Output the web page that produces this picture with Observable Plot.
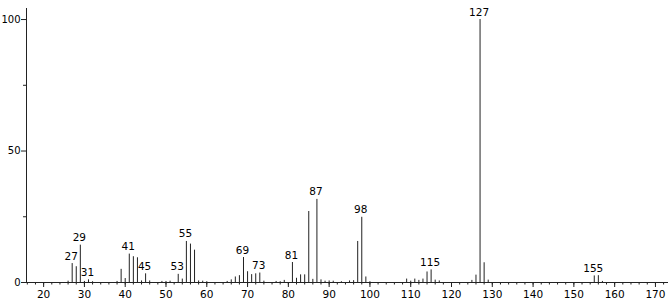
<!DOCTYPE html>
<html>
<head>
<meta charset="utf-8">
<script src="https://cdn.jsdelivr.net/npm/d3@7"></script>
<script src="https://cdn.jsdelivr.net/npm/@observablehq/plot@0.6"></script>
<style>
  html, body { margin: 0; padding: 0; background: #fff; }
  svg { display: block; }
</style>
</head>
<body>
<div id="chart"></div>
<script>
const mz = [26,27,28,29,30,31,32,38,39,40,41,42,43,44,45,46,49,50,51,53,54,55,56,57,58,59,60,65,66,67,68,69,70,71,72,73,74,77,78,79,81,82,83,84,85,86,87,88,89,90,91,93,95,96,97,98,99,100,109,110,111,112,113,114,115,116,117,125,126,127,128,129,155,156,157];
const intensity = [0.5,7.2,6.0,14.2,0.4,1.0,0.3,0.4,5.0,1.5,10.8,9.8,9.4,0.6,3.3,0.6,0.4,0.4,0.5,3.1,1.3,15.6,14.6,12.3,0.6,0.5,0.3,0.4,1.0,2.1,2.6,9.5,4.1,3.0,3.3,3.6,0.5,0.4,0.3,0.8,7.6,1.6,2.9,2.9,27.0,1.2,31.6,1.0,0.5,0.6,0.5,0.3,0.6,0.7,15.6,24.8,2.1,0.3,1.3,0.5,1.3,0.8,1.3,4.0,4.8,0.9,0.6,0.8,2.8,100,7.5,0.9,2.5,2.6,0.4];
const labeled = [27,29,31,41,45,53,55,69,73,81,87,98,115,127,155];
const xMajorTicks = [20,30,40,50,60,70,80,90,100,110,120,130,140,150,160,170];
const xMinorTicks = d3.range(16, 174, 2);
const yMajorTicks = [0,50,100];
const yMinorTicks = [25,75];

const peaks = mz.map((m, i) => ({mz: m, intensity: intensity[i]}));
const labelData = peaks.filter(d => labeled.includes(d.mz));

const ink = "#222";
const chart = Plot.plot({
  width: 672,
  height: 304,
  marginLeft: 26,
  marginRight: 4,
  marginTop: 8,
  marginBottom: 22,
  style: {fontFamily: "DejaVu Sans", fontSize: "10.5px", color: ink, background: "#fff"},
  x: {domain: [15.8, 173.2], label: null},
  y: {domain: [0, 104.2], label: null},
  marks: [
    Plot.ruleX(peaks, {x: "mz", y1: 0, y2: "intensity", stroke: ink, strokeWidth: 1}),
    Plot.ruleY([0], {stroke: ink}),
    Plot.frame({anchor: "left", stroke: ink}),
    Plot.axisX(xMajorTicks, {tickSize: 5, tickPadding: 3, stroke: ink, fill: "#000"}),
    Plot.axisX(xMinorTicks, {tickSize: 2.5, tickFormat: () => "", stroke: ink}),
    Plot.axisY(yMajorTicks, {tickSize: 5, tickPadding: 1, stroke: ink, fill: "#000", fontSize: 10}),
    Plot.axisY(yMinorTicks, {tickSize: 3, tickFormat: () => "", stroke: ink}),
    Plot.text(labelData, {x: "mz", y: "intensity", text: d => String(d.mz), dy: -4, dx: -1, lineAnchor: "bottom", fill: "#000"})
  ]
});
document.getElementById("chart").appendChild(chart);
</script>
</body>
</html>
